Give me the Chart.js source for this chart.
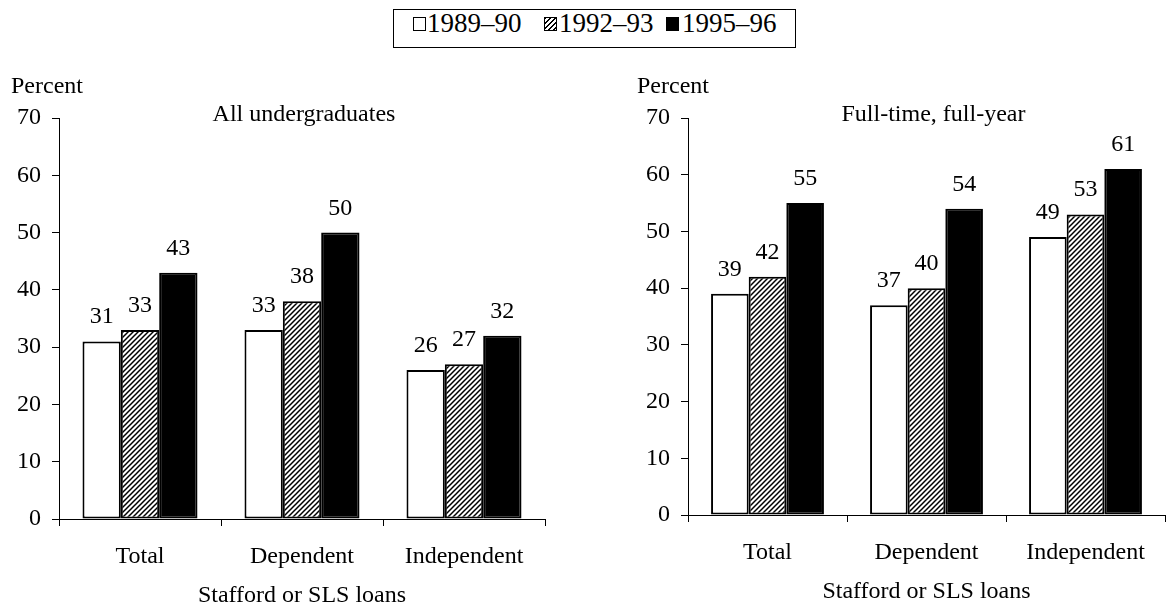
<!DOCTYPE html>
<html>
<head>
<meta charset="utf-8">
<script src="https://cdn.jsdelivr.net/npm/chart.js@4.4.0/dist/chart.umd.min.js"></script>
<style>
  body { margin: 0; background: #fff; width: 1171px; height: 610px; position: relative; overflow: hidden;
         font-family: "Liberation Serif", "Times New Roman", serif; color: #000; }
  canvas { position: absolute; top: 0; }
  #left { left: 0; }
  #right { left: 586px; }
  .legend-box { position: absolute; left: 393px; top: 9px; width: 403px; height: 39px;
                border: 1.5px solid #000; box-sizing: border-box; }
  .swatch { position: absolute; top: 17px; width: 13px; height: 14px; border: 1.5px solid #000; box-sizing: border-box; }
  .label { position: absolute; top: 10px; font-size: 27px; line-height: 27px; white-space: nowrap; }
</style>
</head>
<body>

<div class="legend-box"></div>
<div class="swatch" style="left:413px;background:#fff"></div>
<span class="label" id="lg0" style="left:427px"></span>
<div class="swatch" style="left:544px;background:repeating-linear-gradient(135deg,#000 0 1.3px,#fff 1.3px 3.4px)"></div>
<span class="label" id="lg1" style="left:559px"></span>
<div class="swatch" style="left:666px;background:#000"></div>
<span class="label" id="lg2" style="left:682px"></span>

<canvas id="left" width="585" height="610"></canvas>
<canvas id="right" width="585" height="610"></canvas>

<script>
// ---------------------------------------------------------------------------
// Data
// ---------------------------------------------------------------------------

const categories = ['Total', 'Dependent', 'Independent'];
const years = ['1989–90', '1992–93', '1995–96'];

// All undergraduates
const allUg8990 = [31, 33, 26];
const allUg9293 = [33, 38, 27];
const allUg9596 = [43, 50, 32];

// Full-time, full-year
const fullTime8990 = [39, 37, 49];
const fullTime9293 = [42, 40, 53];
const fullTime9596 = [55, 54, 61];

const yMax = 70;
const yStep = 10;

const SERIF = '"Liberation Serif", "Times New Roman", serif';
Chart.defaults.font.family = SERIF;
Chart.defaults.color = '#000';

years.forEach((y, i) => { document.getElementById('lg' + i).textContent = y; });

// ---------------------------------------------------------------------------
// Diagonal hatch for the middle series
// ---------------------------------------------------------------------------

function hatch(ctx) {
  let s = 5;
  let c = document.createElement('canvas');
  c.width = s; c.height = s;
  let g = c.getContext('2d');
  g.fillStyle = '#fff';
  g.fillRect(0, 0, s, s);
  g.strokeStyle = '#000';
  g.lineWidth = 1.5;
  g.beginPath();
  g.moveTo(-1, s + 1); g.lineTo(s + 1, -1);
  g.moveTo(-1, 1); g.lineTo(1, -1);
  g.moveTo(s - 1, s + 1); g.lineTo(s + 1, s - 1);
  g.stroke();
  return ctx.createPattern(c, 'repeat');
}

// ---------------------------------------------------------------------------
// Plugins: value labels above bars, panel texts
// ---------------------------------------------------------------------------

const barValues = {
  id: 'barValues',
  afterDatasetsDraw(chart) {
    let ctx = chart.ctx;
    ctx.save();
    ctx.font = '24px ' + SERIF;
    ctx.fillStyle = '#000';
    ctx.textAlign = 'center';
    ctx.textBaseline = 'alphabetic';
    chart.data.datasets.forEach((ds, i) => {
      chart.getDatasetMeta(i).data.forEach((bar, j) => {
        ctx.fillText(ds.data[j], bar.x, bar.y - 18);
      });
    });
    ctx.restore();
  }
};

const panelText = {
  id: 'panelText',
  afterDraw(chart, args, opts) {
    let ctx = chart.ctx;
    let area = chart.chartArea;
    ctx.save();
    ctx.font = '24px ' + SERIF;
    ctx.fillStyle = '#000';
    ctx.textBaseline = 'alphabetic';
    ctx.textAlign = 'left';
    ctx.fillText('Percent', area.left - opts.percentDx, 93);
    ctx.textAlign = 'center';
    ctx.fillText(opts.title, (area.left + area.right) / 2 + opts.titleDx, 121);
    ctx.restore();
  }
};

// ---------------------------------------------------------------------------
// One panel
// ---------------------------------------------------------------------------

function drawPanel(id, title, a, b, c, pad, percentDx, titleDx) {
  let ctx = document.getElementById(id).getContext('2d');
  let common = { borderColor: '#000', borderWidth: 2, borderSkipped: false,
                 categoryPercentage: 0.71, barPercentage: 1 };

  return new Chart(ctx, {
    type: 'bar',
    data: {
      labels: categories,
      datasets: [
        Object.assign({ label: years[0], data: a, backgroundColor: '#fff' }, common),
        Object.assign({ label: years[1], data: b, backgroundColor: hatch(ctx) }, common),
        Object.assign({ label: years[2], data: c, backgroundColor: '#000' }, common)
      ]
    },
    options: {
      responsive: false,
      animation: false,
      devicePixelRatio: 1,
      layout: { padding: pad },
      plugins: {
        legend: { display: false },
        tooltip: { enabled: false },
        panelText: { title: title, percentDx: percentDx, titleDx: titleDx }
      },
      scales: {
        x: {
          grid: { drawOnChartArea: false, tickLength: 7, color: '#000', offset: true },
          border: { color: '#000', width: 1 },
          ticks: { color: '#000', font: { size: 24 }, padding: 16 },
          title: { display: true, text: 'Stafford or SLS loans', color: '#000', font: { size: 24 }, padding: 0 },
          afterFit(s) { s.height = 91; }
        },
        y: {
          min: 0,
          max: yMax,
          ticks: { stepSize: yStep, color: '#000', font: { size: 24 }, padding: 11 },
          grid: { drawOnChartArea: false, tickLength: 7, color: '#000' },
          border: { color: '#000', width: 1 },
          afterFit(s) { s.width = 59; }
        }
      }
    },
    plugins: [panelText, barValues]
  });
}

drawPanel('left', 'All undergraduates', allUg8990, allUg9293, allUg9596,
          { left: 0, right: 40, top: 118, bottom: 0 }, 48, 2);
drawPanel('right', 'Full-time, full-year', fullTime8990, fullTime9293, fullTime9596,
          { left: 43, right: 6, top: 118, bottom: 4 }, 51, 7);
</script>
</body>
</html>
